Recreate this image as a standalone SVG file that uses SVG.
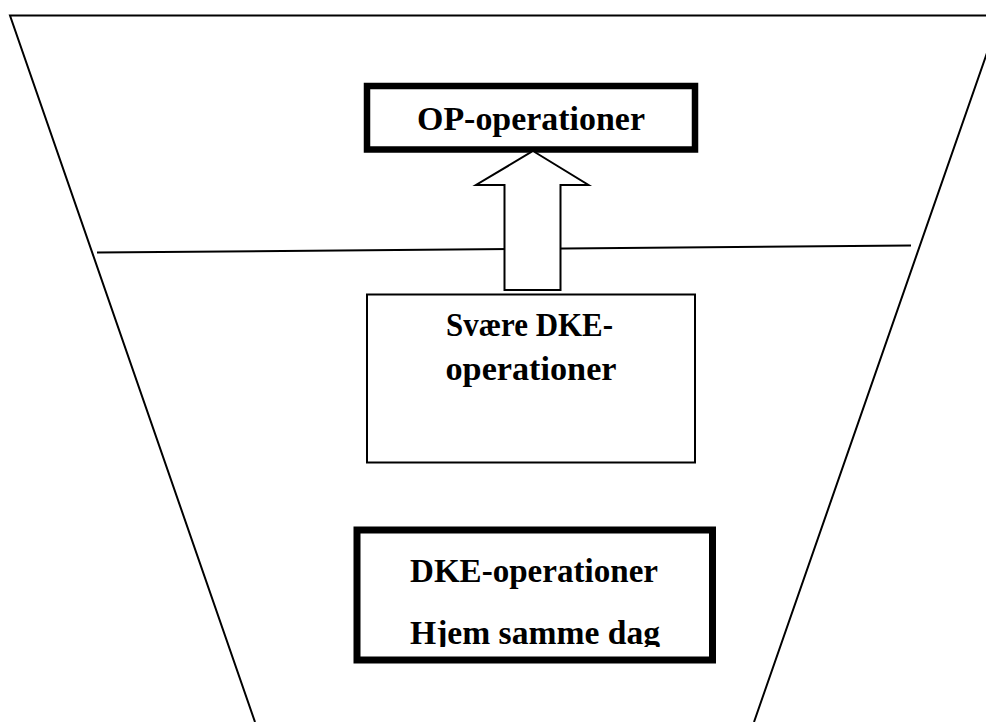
<svg xmlns="http://www.w3.org/2000/svg" width="986" height="722" viewBox="0 0 986 722">
  <defs>
    <style>
      .outline { fill: none; stroke: #000; stroke-width: 2; }
      .box { fill: #fff; stroke: #000; }
      .label { font-family: "Liberation Serif", "Times New Roman", serif; font-weight: bold; font-size: 33.5px; fill: #000; text-anchor: middle; }
      .arrow { fill: #fff; stroke: #000; stroke-width: 2; stroke-linejoin: miter; }
    </style>
    <clipPath id="clipBottom">
      <rect x="357" y="530" width="355" height="117"/>
    </clipPath>
  </defs>
  <rect x="0" y="0" width="986" height="722" fill="#fff"/>

  <g id="funnel">
    <polyline class="outline" points="255,722 10,15.5 1000,15.5 754,722"/>
    <line class="outline" x1="97" y1="252.5" x2="911" y2="245.5"/>
  </g>

  <g id="node-op">
    <rect class="box" x="367" y="86" width="328" height="63.5" stroke-width="6.5"/>
    <text class="label" x="531" y="130" textLength="228" lengthAdjust="spacingAndGlyphs">OP-operationer</text>
  </g>

  <g id="node-svaere">
    <rect class="box" x="367" y="294.5" width="328" height="168" stroke-width="2"/>
    <text class="label" x="529.5" y="336" textLength="167" lengthAdjust="spacingAndGlyphs">Svære DKE-</text>
    <text class="label" x="531" y="380" textLength="171" lengthAdjust="spacingAndGlyphs">operationer</text>
  </g>

  <g id="node-dke">
    <rect class="box" x="357" y="530" width="355.5" height="130" stroke-width="7"/>
    <text class="label" x="534" y="582" textLength="248" lengthAdjust="spacingAndGlyphs">DKE-operationer</text>
    <text class="label" x="535" y="644" textLength="250" lengthAdjust="spacingAndGlyphs" clip-path="url(#clipBottom)">Hjem samme dag</text>
  </g>

  <g id="connectors">
    <polygon class="arrow" points="533,151 588.5,185 560.5,185 560.5,290 504.5,290 504.5,185 476,185"/>
  </g>
</svg>
